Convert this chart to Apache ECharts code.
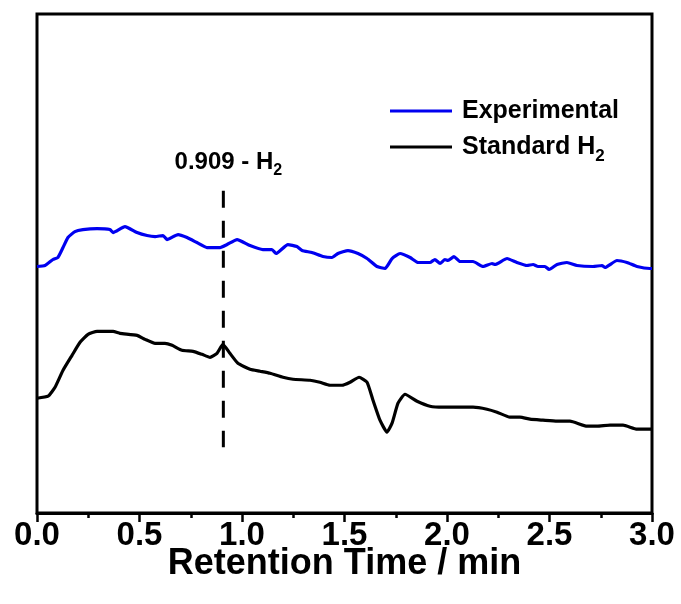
<!DOCTYPE html>
<html>
<head>
<meta charset="utf-8">
<script src="https://cdn.jsdelivr.net/npm/echarts@6/dist/echarts.min.js"></script>
<style>
html,body{margin:0;padding:0;background:#fff;}
#chart{width:681px;height:604px;}
</style>
</head>
<body>
<div id="chart"></div>
<script>
// Experimental trace (time in min, intensity a.u.)
var expTime = [0.000,0.039,0.078,0.102,0.127,0.151,0.185,0.224,0.293,0.356,0.371,0.429,0.488,0.537,0.576,0.615,0.634,0.688,0.732,0.780,0.829,0.893,0.927,0.976,1.039,1.102,1.146,1.166,1.224,1.268,1.293,1.341,1.395,1.439,1.468,1.517,1.566,1.610,1.659,1.698,1.732,1.771,1.820,1.859,1.917,1.941,1.966,1.990,2.005,2.034,2.063,2.127,2.176,2.220,2.234,2.293,2.341,2.390,2.420,2.444,2.478,2.498,2.537,2.585,2.634,2.712,2.756,2.771,2.829,2.878,2.927,2.990,3.000];
var expValue = [247,248,254,256,266,276,282,284,285,284,281,287,281,278,277,278,274,279,276,271,266,266,269,274,268,264,264,260,269,267,263,261,257,256,260,263,260,255,247,245,255,260,256,251,251,254,250,254,253,257,252,252,247,250,249,255,251,248,249,247,247,244,249,251,248,247,248,246,253,251,247,245,245];

// Standard H2 trace
var stdTime = [0.000,0.054,0.088,0.127,0.171,0.210,0.249,0.293,0.371,0.405,0.488,0.527,0.576,0.624,0.659,0.707,0.761,0.805,0.844,0.878,0.907,0.941,0.980,1.039,1.088,1.137,1.200,1.249,1.332,1.380,1.429,1.488,1.527,1.571,1.610,1.639,1.673,1.707,1.732,1.761,1.795,1.854,1.917,1.980,2.029,2.127,2.195,2.244,2.307,2.356,2.405,2.468,2.537,2.600,2.683,2.732,2.795,2.859,2.927,2.990,3.000];
var stdValue = [115,117,126,143,158,171,179,182,182,180,178,174,170,170,168,163,162,159,156,160,169,160,150,144,142,140,136,134,133,131,128,128,131,136,131,113,93,81,90,110,119,112,107,106,106,106,104,101,96,96,94,93,92,92,87,87,88,88,84,84,84];

// H2 peak marker
var peakTime = 0.909;
var peakLineTop = 323;
var peakLineBottom = 66;
var peakLabel = '0.909 - H{sub|2}';

var seriesNames = ['Experimental', 'Standard H{sub|2}'];

function zip(a, b) { return a.map(function (v, i) { return [v, b[i]]; }); }

var FONT = '"Liberation Sans", Arial, sans-serif';
var chart = echarts.init(document.getElementById('chart'), null, {renderer: 'canvas'});

chart.setOption({
  animation: false,
  backgroundColor: '#fff',
  grid: {left: 37, right: 29, top: 14, bottom: 91, show: true, borderColor: '#000', borderWidth: 3, containLabel: false},
  legend: {
    orient: 'vertical', left: 390, top: 93, itemGap: 0, padding: 0,
    itemWidth: 62, itemHeight: 3,
    data: [
      {name: seriesNames[0], icon: 'rect'},
      {name: seriesNames[1], icon: 'rect'}
    ],
    textStyle: {
      fontFamily: FONT, fontWeight: 'bold', fontSize: 25, color: '#000', lineHeight: 36,
      padding: [0, 0, 0, 5],
      rich: {sub: {fontFamily: FONT, fontWeight: 'bold', fontSize: 17, lineHeight: 15, verticalAlign: 'bottom', color: '#000'}}
    }
  },
  xAxis: {
    type: 'value', min: 0, max: 3, interval: 0.5,
    name: 'Retention Time / min', nameLocation: 'middle', nameGap: 51, nameMoveOverlap: false,
    nameTextStyle: {fontFamily: FONT, fontWeight: 'bold', fontSize: 36, color: '#000', verticalAlign: 'middle'},
    axisLine: {show: true, onZero: false, lineStyle: {color: '#000', width: 3}},
    axisTick: {show: true, inside: false, length: 9, lineStyle: {color: '#000', width: 2.5}},
    minorTick: {show: true, splitNumber: 2, length: 5, lineStyle: {color: '#000', width: 2.5}},
    axisLabel: {margin: 6, fontFamily: FONT, fontWeight: 'bold', fontSize: 33, color: '#000',
      formatter: function (v) { return v.toFixed(1); }},
    splitLine: {show: false}
  },
  yAxis: {
    type: 'value', min: 0, max: 500, show: false, splitLine: {show: false}
  },
  series: [
    {
      name: seriesNames[0], type: 'line', data: zip(expTime, expValue), showSymbol: false, symbol: 'none',
      smooth: 0.15, color: '#0000f0', lineStyle: {color: '#0000f0', width: 3.2}, itemStyle: {color: '#0000f0'}, z: 3
    },
    {
      name: seriesNames[1], type: 'line', data: zip(stdTime, stdValue), showSymbol: false, symbol: 'none',
      smooth: 0.15, color: '#000', lineStyle: {color: '#000', width: 3.2}, itemStyle: {color: '#000'}, z: 3
    },
    {
      name: 'marker', type: 'line', symbol: 'circle', symbolSize: 0.1, showSymbol: true, z: 2,
      itemStyle: {color: '#000'},
      lineStyle: {color: '#000', width: 3, type: [17, 13]},
      data: [
        {value: [peakTime, peakLineTop], label: {show: true, position: 'top', distance: 12, offset: [5, 0],
          formatter: peakLabel,
          fontFamily: FONT, fontWeight: 'bold', fontSize: 24, color: '#000', lineHeight: 32,
          rich: {sub: {fontFamily: FONT, fontWeight: 'bold', fontSize: 16, lineHeight: 14, verticalAlign: 'bottom', color: '#000'}}}},
        {value: [peakTime, peakLineBottom], label: {show: false}}
      ]
    }
  ]
});
</script>
</body>
</html>
